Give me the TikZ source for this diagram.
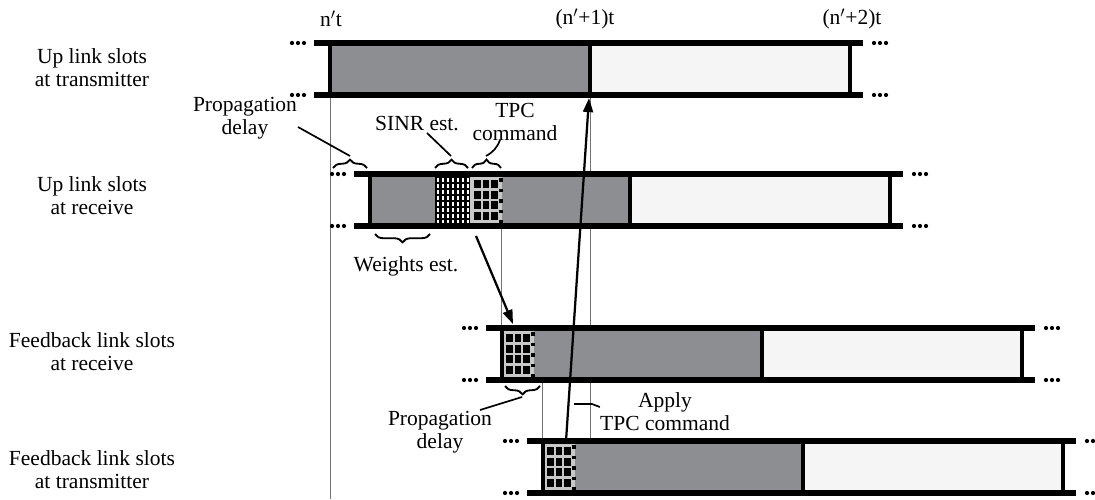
\documentclass[tikz,border=0pt]{standalone}
\usepackage{fontspec}
\setmainfont{Liberation Serif}
\usetikzlibrary{decorations.pathreplacing,arrows.meta}

\definecolor{slotgray}{RGB}{140,142,145}
\definecolor{slotlight}{RGB}{245,245,245}
\definecolor{gridbg}{RGB}{200,200,200}

% one row of slots: name, left x, top y
\newcommand{\slotrow}[3]{%
  \fill[slotgray] (#2,#3) rectangle (#2+260,#3+52);
  \fill[slotlight] (#2+260,#3) rectangle (#2+520,#3+52);
  \coordinate (#1-nw) at (#2,#3);
  \coordinate (#1-sw) at (#2,#3+52);
}
\newcommand{\slotframe}[2]{%
  \draw[rail] (#1-16,#2) -- (#1+533,#2);
  \draw[rail] (#1-16,#2+52) -- (#1+533,#2+52);
  \draw[wall] (#1,#2) -- (#1,#2+52);
  \draw[wall] (#1+260,#2) -- (#1+260,#2+52);
  \draw[wall] (#1+520,#2) -- (#1+520,#2+52);
  \foreach \k in {-38,-32,-26,544,550,556} {
    \fill (#1+\k,#2) circle (1.5pt);
    \fill (#1+\k,#2+52) circle (1.5pt);
  }
}
% TPC command block: left x, top y
\newcommand{\tpcblock}[2]{%
  \fill[gridbg] (#1,#2+3) rectangle (#1+32,#2+49);
  \foreach \c in {0,1,2}
    \foreach \r in {0,1,2,3}
      \fill (#1+4+\c*8.5,#2+6+\r*10.5) rectangle ++(6.5,8);
  \foreach \r in {0,...,4}
    \fill (#1+29,#2+4+\r*10.5) rectangle ++(3.5,3.5);
}

\begin{document}
\begin{tikzpicture}[
    x=0.025cm, y=-0.025cm,
    label/.style={align=center, font=\fontsize{15.3}{16.2}\selectfont, inner sep=0pt},
    rail/.style={line width=3.6pt},
    wall/.style={line width=3pt},
    guide/.style={line width=0.6pt, black!55},
    curly/.style={decorate, decoration={brace, amplitude=6pt}, line width=1.3pt},
    leader/.style={line width=1.2pt},
    arrow/.style={-{Triangle[length=10pt, width=7pt]}, line width=1.6pt},
]
\useasboundingbox (0,0) rectangle (1095,499);

% time marks
\node[label] (tn0) at (331,19) {n$'$t};
\node[label] (tn1) at (585,19) {(n$'$+1)t};
\node[label] (tn2) at (852,19) {(n$'$+2)t};

% guide lines
\draw[guide] (330,95) -- (330,499);
\draw[guide] (590,95) -- (590,441);
\draw[guide] (501,227) -- (501,328);
\draw[guide] (542,380) -- (542,441);

% rows
\slotrow{ult}{330}{43}
\slotrow{ulr}{370}{174}
\slotrow{fbr}{502}{328}
\slotrow{fbt}{543}{441}

% SINR est. block
\fill (435,176) rectangle (470,224);
\foreach \c in {0,...,6}
  \foreach \r in {0,...,7}
    \fill[white] (436.5+\c*5,178+\r*6) rectangle ++(2.5,3.5);
\tpcblock{470}{174}
\tpcblock{502}{328}
\tpcblock{543}{441}

\slotframe{330}{43}
\slotframe{370}{174}
\slotframe{502}{328}
\slotframe{543}{441}

% row names
\node[label] (nult) at (92,68) {Up link slots\\at transmitter};
\node[label] (nulr) at (92,196) {Up link slots\\at receive};
\node[label] (nfbr) at (92,352) {Feedback link slots\\at receive};
\node[label] (nfbt) at (92,470) {Feedback link slots\\at transmitter};

% braces
\draw[curly] (333,168) -- (367,168);
\draw[curly] (435,168) -- (468,168);
\draw[curly] (472,168) -- (501,168);
\draw[curly] (430,234) -- (375,234);
\draw[curly] (540,386) -- (505,386);
\coordinate (bprop) at (350,156);
\coordinate (bsinr) at (451,156);
\coordinate (btpc) at (486,156);
\coordinate (bprop2) at (522,397);

% annotations
\node[label] (prop) at (245,118) {Propagation\\delay};
\node[label] (sinr) at (417,124) {SINR est.};
\node[label] (tpc) at (515,122) {TPC\\command};
\node[label] (wts) at (406,266) {Weights est.};
\node[label] (prop2) at (440,432) {Propagation\\delay};
\node[label] (apply) at (665,412) {Apply\\TPC command};

\coordinate (lprop) at (298,127);
\coordinate (lsinr) at (427,133);
\coordinate (ltpc) at (500,140);
\coordinate (lprop2) at (480,410);
\draw[leader] (lprop) -- (bprop);
\draw[leader] (lsinr) -- (bsinr);
\draw[leader] (ltpc) to[bend left=20] (btpc);
\draw[leader] (lprop2) -- (bprop2);

% commands
\coordinate (wfrom) at (476,236);
\coordinate (wto) at (513,324);
\draw[arrow] (wfrom) -- (wto);
\coordinate (afoot) at (566,441);
\coordinate (ahead) at (589,98);
\draw[arrow] (afoot) -- (ahead);
\coordinate (aleg) at (574,404);
\draw[leader] (aleg) -- (592,404) -- (apply.west |- 0,407);
\end{tikzpicture}
\end{document}
